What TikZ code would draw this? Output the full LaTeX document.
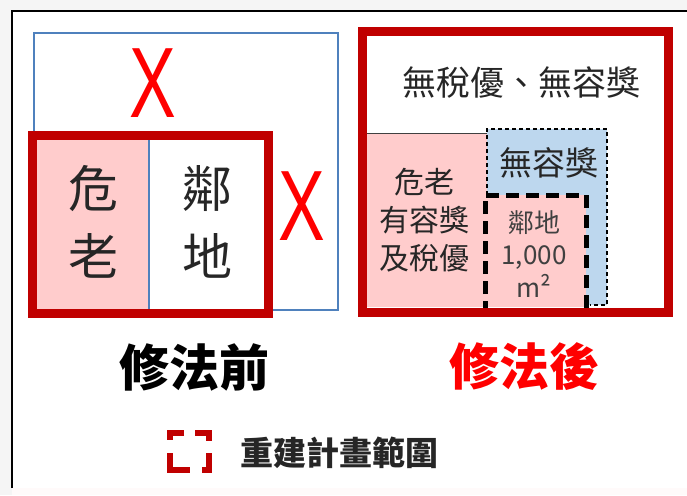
\documentclass[tikz,border=0pt]{standalone}
\usepackage{fontspec}
\setmainfont{Noto Sans CJK TC}
\newfontfamily\xfont{Liberation Sans}
\definecolor{darkred}{HTML}{C00000}
\definecolor{pinkf}{HTML}{FFCCCC}
\definecolor{bluef}{HTML}{BDD7EE}
\definecolor{blueline}{HTML}{4F81BD}
\definecolor{xred}{HTML}{FF0000}
\definecolor{txt}{HTML}{262626}
\begin{document}
\begin{tikzpicture}[x=1pt,y=-1pt,
  redframe/.style={draw=darkred,line width=9pt},
  thinblue/.style={draw=blueline,line width=1.4pt},
  bigx/.style={text=xred,inner sep=0pt,font=\xfont\fontsize{100}{100}\selectfont,xscale=0.7},
  lbl/.style={inner sep=0pt,align=center,text=txt}]
\useasboundingbox (0,0) rectangle (687,495);
% page background and frame
\fill[color=black!4] (0,0) rectangle (687,495);
\fill[white] (11.5,11.5) rectangle (687,488);
\fill[color=red!2] (11.5,488) rectangle (687,495);
\draw[black,line width=2pt] (11.5,488) -- (11.5,11.5) -- (687,11.5);
% ---------------- left diagram
\draw[thinblue] (34,33) rectangle (338,310);
\fill[pinkf] (37,140) rectangle (149,309);
\fill[white] (149,140) rectangle (265,309);
\draw[thinblue] (149,140) -- (149,309);
\draw[redframe] (32.5,135.5) rectangle (268.5,313.5);
\node[lbl,font=\fontsize{50}{68}\selectfont] (wl) at (93,222) {危\\老};
\node[lbl,font=\fontsize{50}{68}\selectfont] (nl) at (207,222) {鄰\\地};
\node[bigx] (x1) at (153,83.5) {X};
\node[bigx] (x2) at (302,206) {X};
% ---------------- right diagram
\fill[white] (367,37) rectangle (664,307);
\fill[pinkf] (367,133) rectangle (487,307);
\draw[color=black!75,line width=1pt] (367,133) -- (487,133);
\fill[bluef] (487,129) rectangle (607,305);
\draw[black,line width=1.2pt,dash pattern=on 4pt off 3pt] (487,307) -- (487,129) -- (607,129) -- (607,305) -- (590,305);
\fill[pinkf] (485,195) rectangle (586,307);
\draw[black,line width=5pt,dash pattern=on 13pt off 7pt] (485,314) -- (485,195) -- (586,195) -- (586,314);
\draw[black,line width=5pt,dash pattern=on 13pt off 7pt] (485,314) -- (586,314);
\draw[redframe] (362,32) rectangle (668.5,312);
\node[lbl,font=\fontsize{34}{40}\selectfont] (top) at (521,83) {無稅優、無容獎};
\node[lbl,font=\fontsize{33}{40}\selectfont] (nr) at (549,163) {無容獎};
\node[lbl,font=\fontsize{30}{38}\selectfont] (wr) at (424,220) {危老\\有容獎\\及稅優};
\node[lbl,font=\fontsize{26}{32.5}\selectfont,text=black!75] (land) at (534,254) {鄰地\\1,000\\m²};
% ---------------- captions
\node[lbl,font=\bfseries\fontsize{50}{50}\selectfont,text=black] (before) at (194,367) {修法前};
\node[lbl,font=\bfseries\fontsize{50}{50}\selectfont,text=xred] (after) at (524,367) {修法後};
% ---------------- legend
\begin{scope}[draw=darkred,line width=6pt,line cap=butt]
\draw (184,433) -- (170,433) -- (170,440);
\draw (195,433) -- (209,433) -- (209,441);
\draw (170,453) -- (170,470) -- (190,470);
\draw (209,453) -- (209,470) -- (202,470);
\end{scope}
\node[lbl,font=\bfseries\fontsize{33}{33}\selectfont] (legend) at (339,453) {重建計畫範圍};
\end{tikzpicture}
\end{document}
